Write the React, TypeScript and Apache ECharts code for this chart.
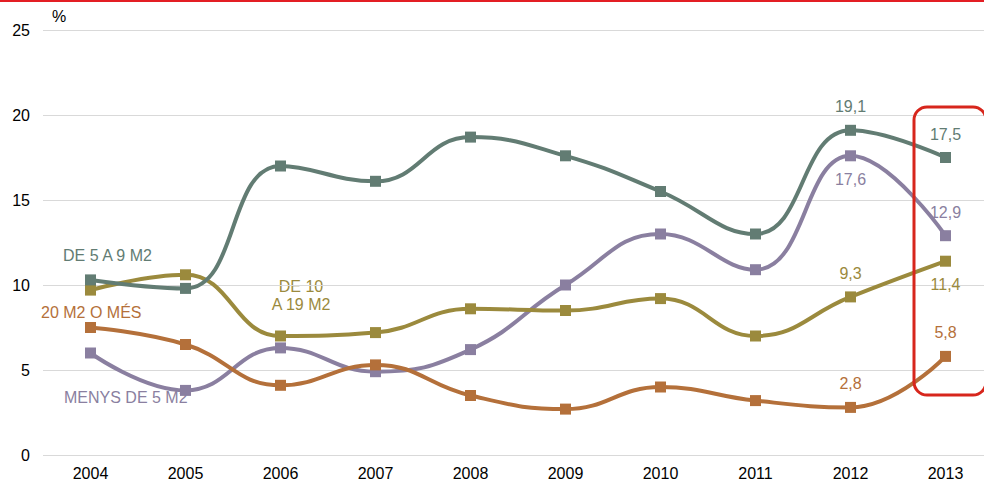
import React, { useEffect, useRef } from "react";
import * as echarts from "echarts";

const years = ["2004", "2005", "2006", "2007", "2008", "2009", "2010", "2011", "2012", "2013"];
const de5a9 = [10.3, 9.8, 17.0, 16.1, 18.7, 17.6, 15.5, 13.0, 19.1, 17.5];
const menys5 = [6.0, 3.8, 6.3, 4.9, 6.2, 10.0, 13.0, 10.9, 17.6, 12.9];
const de10a19 = [9.7, 10.6, 7.0, 7.2, 8.6, 8.5, 9.2, 7.0, 9.3, 11.4];
const mes20 = [7.5, 6.5, 4.1, 5.3, 3.5, 2.7, 4.0, 3.2, 2.8, 5.8];
const yTicks = [0, 5, 10, 15, 20, 25];

const GREEN = "#627c73";
const PURPLE = "#8a7fa0";
const OLIVE = "#9b8a3d";
const ORANGE = "#b4703a";
const FONT = "'Liberation Sans', Arial, sans-serif";
const FS = 16;

const fmt = (v: number) => v.toFixed(1).replace(".", ",");

function mkSeries(name: string, data: number[], color: string, labelPos: Record<number, string>, z: number) {
  return {
    name,
    type: "line",
    smooth: 0.45,
    z,
    symbol: "rect",
    symbolSize: 11,
    lineStyle: { width: 4, color },
    itemStyle: { color },
    data: data.map((v, i) => ({
      value: v,
      label: labelPos[i]
        ? {
            show: true,
            position: labelPos[i],
            distance: 10,
            formatter: () => fmt(v),
            color,
            fontSize: FS,
            fontFamily: FONT,
          }
        : { show: false },
    })),
  };
}

export default function App() {
  const ref = useRef<HTMLDivElement>(null);
  useEffect(() => {
    if (!ref.current) return;
    const chart = echarts.init(ref.current, null, { renderer: "svg" });
    chart.setOption({
      animation: false,
      backgroundColor: "#ffffff",
      grid: { left: 43, right: 1, top: 30, height: 425, containLabel: false },
      xAxis: {
        type: "category",
        data: years,
        boundaryGap: true,
        axisLine: { show: false },
        axisTick: { show: false },
        axisLabel: { color: "#000", fontSize: FS, fontFamily: FONT, margin: 10 },
      },
      yAxis: {
        type: "value",
        min: 0,
        max: 25,
        interval: 5,
        axisLine: { show: false },
        axisTick: { show: false },
        axisLabel: { color: "#000", fontSize: FS, fontFamily: FONT, margin: 13, formatter: (v: number) => (yTicks.includes(v) ? String(v) : "") },
        splitLine: { lineStyle: { color: "#d9d9d9", width: 1 } },
      },
      series: [
        mkSeries("MENYS DE 5 M2", menys5, PURPLE, { 8: "bottom", 9: "top" }, 2),
        mkSeries("DE 10 A 19 M2", de10a19, OLIVE, { 8: "top", 9: "bottom" }, 3),
        mkSeries("DE 5 A 9 M2", de5a9, GREEN, { 8: "top", 9: "top" }, 4),
        mkSeries("20 M2 O MÉS", mes20, ORANGE, { 8: "top", 9: "top" }, 5),
      ],
      graphic: [
        { type: "rect", left: 0, top: 0, shape: { width: 994, height: 2 }, style: { fill: "#e31e24" } },
        { type: "text", left: 52, top: 8, style: { text: "%", fill: "#000", fontSize: FS, fontFamily: FONT } },
        { type: "text", left: 63, top: 247, style: { text: "DE 5 A 9 M2", fill: GREEN, fontSize: FS, fontFamily: FONT } },
        { type: "text", left: 41, top: 304, style: { text: "20 M2 O MÉS", fill: ORANGE, fontSize: FS, fontFamily: FONT } },
        { type: "text", left: 64, top: 389, style: { text: "MENYS DE 5 M2", fill: PURPLE, fontSize: FS, fontFamily: FONT } },
        {
          type: "text",
          x: 301,
          y: 277,
          style: { text: "DE 10\nA 19 M2", fill: OLIVE, fontSize: FS, fontFamily: FONT, align: "center", lineHeight: 18 },
        },
        {
          type: "rect",
          shape: { x: 914, y: 107, width: 72, height: 288, r: 13 },
          style: { fill: "none", stroke: "#d7261c", lineWidth: 3 },
          z: 10,
        },
      ],
    });
    return () => chart.dispose();
  }, []);
  return (
    <div style={{ position: "absolute", left: 0, top: 0, width: 984, height: 482, overflow: "hidden" }}>
      <div ref={ref} style={{ width: 994, height: 482 }} />
    </div>
  );
}
